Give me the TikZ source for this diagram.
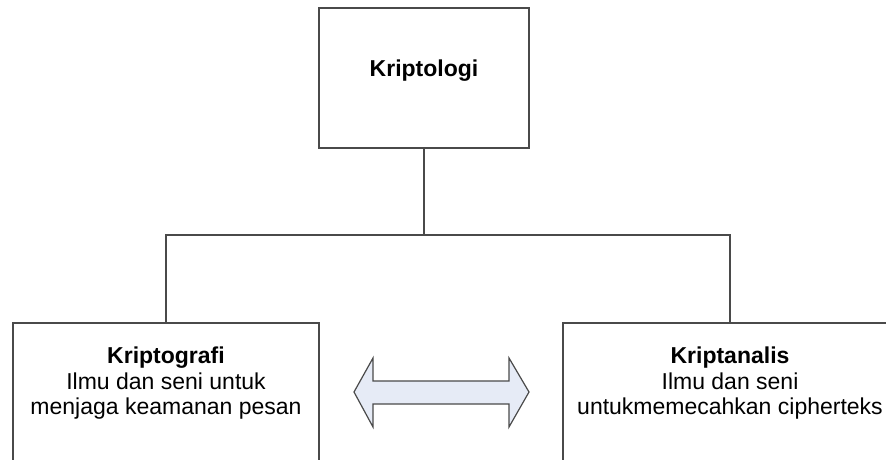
\documentclass[tikz,border=0pt]{standalone}
\usepackage{fontspec}
\setmainfont{Liberation Sans}
\definecolor{linec}{HTML}{4A4A4A}
\definecolor{arrowfill}{HTML}{E6EBF6}
\begin{document}
\begin{tikzpicture}[x=1pt,y=-1pt,
  box/.style={draw=linec,line width=1.4pt,fill=white,inner sep=0pt},
  lbl/.style={anchor=base,inner sep=0pt,font=\fontsize{23}{25.5}\selectfont},
  conn/.style={draw=linec,line width=1.4pt}]
\useasboundingbox (0,0) rectangle (886,459);
\clip (0,0) rectangle (886,459);
\node[box,minimum width=210pt,minimum height=140pt] (top) at (424,78) {};
\node[box,minimum width=306pt,minimum height=150pt] (left) at (166,398) {};
\node[box,minimum width=334pt,minimum height=150pt] (right) at (730,398) {};
\node[lbl,font=\fontsize{23}{25.5}\selectfont\bfseries] (ttop) at (424,76) {Kriptologi};
\node[lbl,font=\fontsize{23}{25.5}\selectfont\bfseries] (tl1) at (166,363) {Kriptografi};
\node[lbl] (tl2) at (166,389) {Ilmu dan seni untuk};
\node[lbl] (tl3) at (166,414) {menjaga keamanan pesan};
\node[lbl,font=\fontsize{23}{25.5}\selectfont\bfseries] (tr1) at (730,363) {Kriptanalis};
\node[lbl] (tr2) at (730,389) {Ilmu dan seni};
\node[lbl] (tr3) at (730,414) {untukmemecahkan cipherteks};
\coordinate (j) at (424,235);
\draw[conn] (top.south) -- (j);
\draw[conn] (left.north) |- (j) -| (right.north);
\draw[draw=linec,line width=1.2pt,fill=arrowfill,line join=miter]
  (354,392) -- (373,358) -- (373,381) -- (509,381) -- (509,358) -- (529,392)
  -- (509,427) -- (509,404) -- (373,404) -- (373,427) -- cycle;
\end{tikzpicture}
\end{document}
